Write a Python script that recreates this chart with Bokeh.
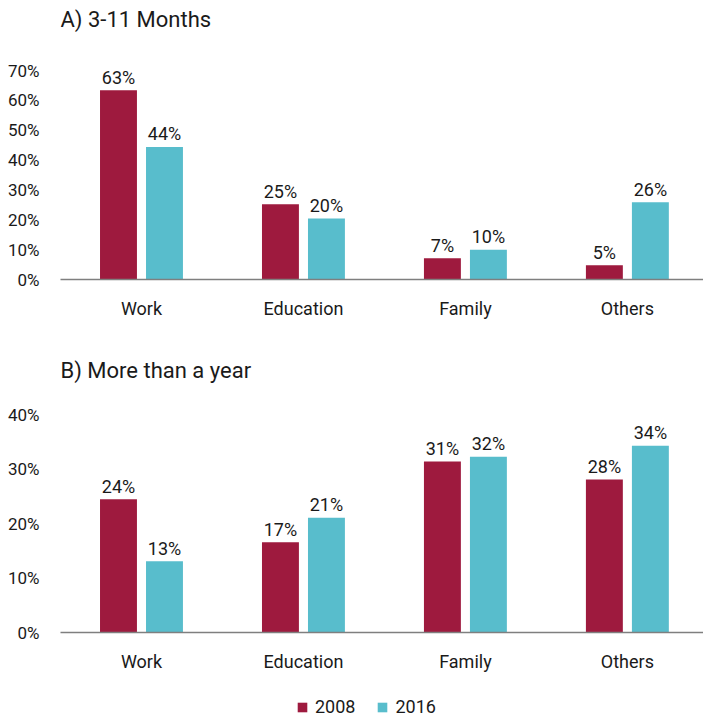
from bokeh.plotting import figure
from bokeh.models import Range1d, FixedTicker, NumeralTickFormatter, ColumnDataSource, Legend, LegendItem, Label
from bokeh.layouts import column
from bokeh.embed import file_html
from bokeh.resources import INLINE

categories = ["Work", "Education", "Family", "Others"]
years = ["2008", "2016"]
a_title = "A) 3-11 Months"
b_title = "B) More than a year"
a_2008 = [0.634, 0.252, 0.071, 0.048]
a_2016 = [0.444, 0.204, 0.100, 0.259]
b_2008 = [0.245, 0.166, 0.314, 0.281]
b_2016 = [0.131, 0.211, 0.323, 0.343]
a_ticks = [0.0, 0.1, 0.2, 0.3, 0.4, 0.5, 0.6, 0.7]
b_ticks = [0.0, 0.1, 0.2, 0.3, 0.4]

C08 = "#9E1A3E"
C16 = "#58BDCC"
FONT = "Roboto"
TXT = "#1a1a1a"
BAR_W = 0.228
OFF = 0.142
FRAME_W = 643
LEFT = 60


def make_panel(v08, v16, ticks, y_end, frame_h, top_border, bottom_border, title=None,
               standoff=0):
    kw = dict(title=title) if title else {}
    p = figure(frame_width=FRAME_W, frame_height=frame_h, x_range=Range1d(0, 3.97),
               y_range=Range1d(0, y_end), output_backend="svg", toolbar_location=None,
               min_border_left=LEFT, min_border_right=0, min_border_top=top_border,
               min_border_bottom=bottom_border, **kw)
    if title:
        p.title.text_font = FONT
        p.title.text_font_size = "22px"
        p.title.text_font_style = "normal"
        p.title.text_color = TXT
        p.title.align = "left"
        p.title.vertical_align = "bottom"
        p.title.standoff = standoff
    p.outline_line_color = None
    p.grid.visible = False

    xs = [i + 0.5 for i in range(len(categories))]
    for vals, off, col in ((v08, -OFF, C08), (v16, OFF, C16)):
        src = ColumnDataSource(dict(x=[x + off for x in xs], top=vals,
                                    lab=["%d%%" % round(v * 100) for v in vals]))
        p.vbar(x="x", top="top", width=BAR_W, bottom=0, source=src,
               fill_color=col, line_color=None)
        p.text(x="x", y="top", text="lab", source=src, text_align="center",
               text_baseline="alphabetic", y_offset=-13, text_font_size="18px",
               text_font={"value": FONT}, text_color=TXT)

    p.xaxis.ticker = FixedTicker(ticks=xs)
    p.xaxis.major_label_overrides = {x: c for x, c in zip(xs, categories)}
    p.xaxis.axis_line_color = "#7f7f7f"
    p.xaxis.axis_line_width = 1.3
    p.xaxis.major_tick_line_color = None
    p.xaxis.minor_tick_line_color = None
    p.xaxis.major_label_standoff = 12
    p.xaxis.major_label_text_font = FONT
    p.xaxis.major_label_text_font_size = "18px"
    p.xaxis.major_label_text_color = TXT

    p.yaxis.ticker = FixedTicker(ticks=ticks)
    p.yaxis.formatter = NumeralTickFormatter(format="0%")
    p.yaxis.axis_line_color = None
    p.yaxis.major_tick_line_color = None
    p.yaxis.minor_tick_line_color = None
    p.yaxis.major_label_standoff = 15
    p.yaxis.major_label_text_font = FONT
    p.yaxis.major_label_text_font_size = "17px"
    p.yaxis.major_label_text_color = TXT
    return p


# Panel A: frame reaches the top of the page, title drawn inside it
A_TOP = 0.7 * 279 / 209
pa = make_panel(a_2008, a_2016, a_ticks, A_TOP, 279, 0, 0)
pa.add_layout(Label(x=0, y=A_TOP, y_offset=-19, text=a_title, text_font=FONT,
                    text_font_size="22px", text_color=TXT, text_baseline="middle",
                    text_align="left"))

pb = make_panel(b_2008, b_2016, b_ticks, 0.4355, 237, 74, 50, title=b_title, standoff=26)

# legend strip
pl = figure(frame_width=FRAME_W, frame_height=36, x_range=Range1d(0, 1), y_range=Range1d(0, 1),
            output_backend="svg", toolbar_location=None, x_axis_type=None, y_axis_type=None,
            min_border_left=LEFT, min_border_right=0, min_border_top=0, min_border_bottom=0)
pl.outline_line_color = None
pl.grid.visible = False
items = []
for yr, col in zip(years, (C08, C16)):
    # zero-height proxy renderer used only for the legend swatch
    r = pl.vbar(x=[0.5], top=[0], bottom=[0], width=0.0, fill_color=col, line_color=None)
    items.append(LegendItem(label=yr, renderers=[r]))
lg = Legend(items=items, orientation="horizontal", location=(236, 1))
lg.glyph_width = 12
lg.glyph_height = 12
lg.label_standoff = 7
lg.spacing = 21
lg.padding = 0
lg.margin = 0
lg.border_line_color = None
lg.background_fill_alpha = 0
lg.label_text_font = FONT
lg.label_text_font_size = "18px"
lg.label_text_color = TXT
lg.label_height = 20
pl.add_layout(lg, "center")

layout = column(pa, pb, pl)
open("out.html", "w").write(file_html(layout, INLINE))
